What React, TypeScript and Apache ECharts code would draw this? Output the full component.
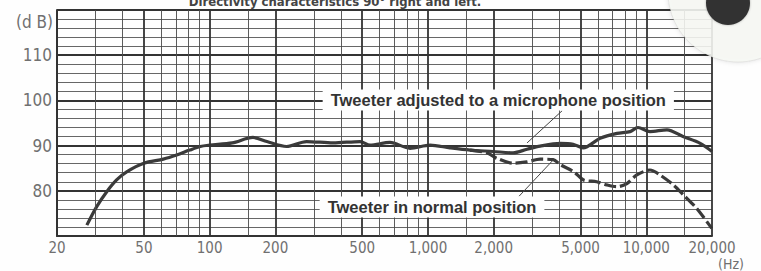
import React, { useEffect, useRef } from "react";
import * as echarts from "echarts";

// Frequency response (Hz, dB) — tweeter adjusted to a microphone position
const micFreq = [27.4, 30.4, 33.8, 37.5, 41.7, 50, 61.4, 70.6, 81, 90.6, 100, 127, 158, 183, 225, 278, 368, 489, 543, 670, 828, 1022, 1262, 1560, 1988, 2454, 2844, 3264, 4030, 4626, 5140, 6140, 7345, 8430, 9160, 10400, 12440, 14740, 17660, 20000];
const micDb = [72.4, 76.5, 79.8, 82.4, 84.2, 86.1, 87.0, 87.9, 89.0, 89.8, 90.1, 90.6, 91.8, 90.9, 89.8, 90.9, 90.6, 90.9, 90.1, 90.7, 89.4, 90.1, 89.5, 89.0, 88.7, 88.4, 89.2, 89.9, 90.5, 90.3, 89.5, 91.6, 92.7, 93.1, 94.0, 93.1, 93.5, 92.0, 90.5, 88.7];

// Tweeter in normal position
const normFreq = [1560, 1862, 2066, 2462, 2836, 3265, 3750, 4030, 4660, 5160, 5930, 6590, 7330, 8150, 9050, 10400, 11560, 13300, 14790, 17020, 19940];
const normDb = [89.0, 88.4, 87.2, 86.1, 86.4, 87.0, 86.9, 85.8, 84.2, 82.4, 82.0, 81.3, 80.9, 81.6, 83.5, 84.6, 83.5, 81.3, 79.1, 76.1, 71.7];

// Grid
const gridFreqs = [20, 30, 40, 50, 60, 70, 80, 90, 100, 150, 200, 300, 400, 500, 600, 700, 800, 900, 1000, 1500, 2000, 3000, 4000, 5000, 6000, 7000, 8000, 9000, 10000, 15000, 20000];
const majorFreqs = [20, 50, 100, 200, 500, 1000, 2000, 5000, 10000, 20000];
const xTickLabels = ["20", "50", "100", "200", "500", "1,000", "2,000", "5,000", "10,000", "20,000"];

// Annotations (Hz, dB)
const label1 = { text: "Tweeter adjusted to a microphone position", at: [2100, 100.1] };
const label2 = { text: "Tweeter in normal position", at: [1044, 76.4] };
const leader1 = [[4116, 97.7], [2845, 90.6]];
const leader2 = [[2614, 78.8], [3743, 86.8]];

const titleText = "Directivity characteristics 90° right and left.";

const NARROW = '"Liberation Sans Narrow", "DejaVu Sans Condensed", "Liberation Sans", sans-serif';
const BOLD = '"Liberation Sans", Arial, sans-serif';

export default function App() {
  const ref = useRef<HTMLDivElement>(null);
  useEffect(() => {
    document.body.style.margin = "0";
    const chart = echarts.init(ref.current!, null, { renderer: "svg" });
    const zip = (a: number[], b: number[]) => a.map((v, i) => [v, b[i]]);
    const option: any = {
      animation: false,
      backgroundColor: "#fefefe",
      grid: { left: 57, right: 49, top: 10, bottom: 35 },
      xAxis: {
        type: "log",
        logBase: 10,
        min: 20,
        max: 20000,
        axisLine: { show: true, onZero: false, lineStyle: { color: "#333", width: 2 } },
        axisTick: { show: false },
        axisLabel: { show: false },
        splitLine: { show: false },
      },
      yAxis: {
        type: "value",
        min: 70,
        max: 120,
        interval: 10,
        axisLine: { show: true, lineStyle: { color: "#333", width: 2 } },
        axisTick: { show: false },
        axisLabel: {
          formatter: (v: number) => (v === 70 || v === 120 ? "" : String(v)),
          color: "#707070",
          fontSize: 17,
          fontFamily: NARROW,
          margin: 5,
        },
        splitLine: { show: true, lineStyle: { color: "#333", width: 1.8 } },
        minorTick: { show: false, splitNumber: 5 },
        minorSplitLine: { show: true, lineStyle: { color: "#555", width: 0.9 } },
      },
      series: [
        {
          type: "line",
          z: 1,
          data: [],
          silent: true,
          markLine: {
            silent: true,
            symbol: ["none", "none"],
            animation: false,
            label: { show: false },
            data: gridFreqs.map((f) => {
              const mi = majorFreqs.indexOf(f);
              return {
                xAxis: f,
                lineStyle: { color: mi >= 0 ? "#333" : "#4a4a4a", width: mi >= 0 ? 1.8 : 0.9, type: "solid" },
                label: {
                  show: mi >= 0,
                  position: "start",
                  distance: 4,
                  formatter: mi >= 0 ? xTickLabels[mi] : "",
                  color: "#707070",
                  fontSize: 15,
                  fontFamily: NARROW,
                },
              };
            }),
          },
        },
        {
          type: "line",
          z: 3,
          data: zip(normFreq, normDb),
          showSymbol: false,
          symbol: "none",
          smooth: 0.3,
          lineStyle: { color: "#3a3a3a", width: 3.2, type: [12, 4] },
        },
        {
          type: "line",
          z: 4,
          data: zip(micFreq, micDb),
          showSymbol: false,
          symbol: "none",
          smooth: 0.3,
          lineStyle: { color: "#3a3a3a", width: 3.2 },
        },
        {
          type: "line",
          z: 5,
          data: [],
          silent: true,
          markLine: {
            silent: true,
            symbol: ["none", "none"],
            animation: false,
            label: { show: false },
            lineStyle: { color: "#444", width: 1, type: "solid" },
            data: [
              [{ coord: leader1[0] }, { coord: leader1[1] }],
              [{ coord: leader2[0] }, { coord: leader2[1] }],
            ],
          },
          markPoint: {
            silent: true,
            animation: false,
            symbol: "rect",
            symbolSize: 0,
            label: {
              show: true,
              position: "inside",
              color: "#333",
              fontSize: 16.5,
              fontWeight: "bold",
              fontFamily: BOLD,
              backgroundColor: "#fefefe",
              padding: [2, 8],
            },
            data: [
              { coord: label1.at, label: { formatter: label1.text } },
              { coord: label2.at, label: { formatter: label2.text } },
            ],
          },
        },
      ],
      graphic: [
        {
          type: "text",
          z: 10,
          style: {
            x: 335,
            y: 8,
            text: titleText,
            font: 'bold 13px ' + NARROW,
            fill: "#444",
            align: "center",
            verticalAlign: "bottom",
            textAlign: "center",
            textVerticalAlign: "bottom",
          },
        },
        {
          type: "text",
          z: 10,
          style: {
            x: 53,
            y: 22,
            text: "(d B)",
            font: '17px ' + NARROW,
            fill: "#707070",
            align: "right",
            verticalAlign: "middle",
            textAlign: "right",
            textVerticalAlign: "middle",
          },
        },
        {
          type: "text",
          z: 10,
          style: {
            x: 731,
            y: 264,
            text: "(Hz)",
            font: '14px ' + NARROW,
            fill: "#707070",
            align: "center",
            verticalAlign: "middle",
            textAlign: "center",
            textVerticalAlign: "middle",
          },
        },
        {
          type: "circle",
          z: 20,
          shape: { cx: 738, cy: -8, r: 70 },
          style: { fill: "rgba(247,248,244,0.88)", stroke: "rgba(0,0,0,0.07)", lineWidth: 1, shadowBlur: 5, shadowColor: "rgba(0,0,0,0.15)" },
        },
        {
          type: "circle",
          z: 21,
          shape: { cx: 728, cy: 3, r: 22 },
          style: { fill: "#333", shadowBlur: 2, shadowColor: "rgba(0,0,0,0.3)" },
        },
      ],
    };
    chart.setOption(option);
    return () => chart.dispose();
  }, []);
  return <div ref={ref} style={{ width: 761, height: 271 }} />;
}
